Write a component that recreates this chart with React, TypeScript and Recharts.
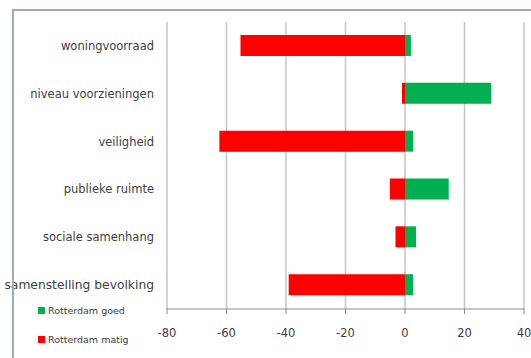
import React from "react";
import { BarChart, Bar, XAxis, YAxis, CartesianGrid } from "recharts";

const categories = [
  "woningvoorraad",
  "niveau voorzieningen",
  "veiligheid",
  "publieke ruimte",
  "sociale samenhang",
  "samenstelling bevolking",
];
const goed = [2, 29, 2.7, 14.7, 3.7, 2.7];
const matig = [-55.3, -1, -62.4, -5.1, -3.2, -39.1];
const xTicks = [-80, -60, -40, -20, 0, 20, 40];
const seriesNames = ["Rotterdam goed", "Rotterdam matig"];
const seriesColors = ["#00b050", "#ff0000"];

const data = categories.map((c, i) => ({ name: c, goed: goed[i], matig: matig[i] }));

const FONT = "'DejaVu Sans', sans-serif";

const CatTick = (props: any) => {
  const { x, y, payload, index } = props;
  const last = index === categories.length - 1;
  return (
    <text x={x} y={y} dy="0.355em" textAnchor="end" fontSize={last ? 12.3 : 11.5} fill="#404040" fontFamily={FONT}>
      {payload.value}
    </text>
  );
};

export default function App() {
  return (
    <div style={{ position: "absolute", left: 0, top: 0, width: 531, height: 358, background: "#fff", overflow: "hidden", fontFamily: FONT }}>
      <div style={{ position: "absolute", left: 12, top: 9, width: 600, height: 400, border: "2px solid #9eacb6", boxSizing: "border-box" }} />
      <div style={{ position: "absolute", left: 0, top: 0 }}>
        <BarChart
          width={531}
          height={358}
          data={data}
          layout="vertical"
          stackOffset="sign"
          margin={{ top: 22, right: 7, bottom: 9, left: 0 }}
          barSize={21}
        >
          <CartesianGrid horizontal={false} vertical={true} stroke="#c4c4c4" strokeWidth={1.5} />
          <XAxis
            type="number"
            domain={[-80, 40]}
            ticks={xTicks}
            interval={0}
            height={40}
            axisLine={{ stroke: "#8a8a8a" }}
            tickLine={{ stroke: "#8a8a8a" }}
            tickSize={5}
            tickMargin={15}
            tick={{ fontSize: 11.5, fill: "#404040", fontFamily: FONT }}
          />
          <YAxis
            type="category"
            dataKey="name"
            width={167}
            axisLine={false}
            tickLine={false}
            tickSize={6}
            tickMargin={7}
            tick={<CatTick />}
          />
          <Bar dataKey="matig" stackId="s" fill={seriesColors[1]} isAnimationActive={false} />
          <Bar dataKey="goed" stackId="s" fill={seriesColors[0]} isAnimationActive={false} />
        </BarChart>
      </div>
      <div style={{ position: "absolute", left: 0, top: 0, width: 14, height: 358, pointerEvents: "none" }}>
        <div style={{ position: "absolute", left: 12, top: 9, width: 2, height: 400, background: "#9eacb6" }} />
      </div>
      {seriesNames.map((n, i) => (
        <div
          key={n}
          style={{ position: "absolute", left: 38, top: i === 0 ? 305 : 334, display: "flex", alignItems: "center", fontSize: 9.5, color: "#404040", fontFamily: FONT }}
        >
          <span style={{ display: "inline-block", width: 7, height: 7, background: seriesColors[i], marginRight: 3 }} />
          <span>{n}</span>
        </div>
      ))}
    </div>
  );
}
